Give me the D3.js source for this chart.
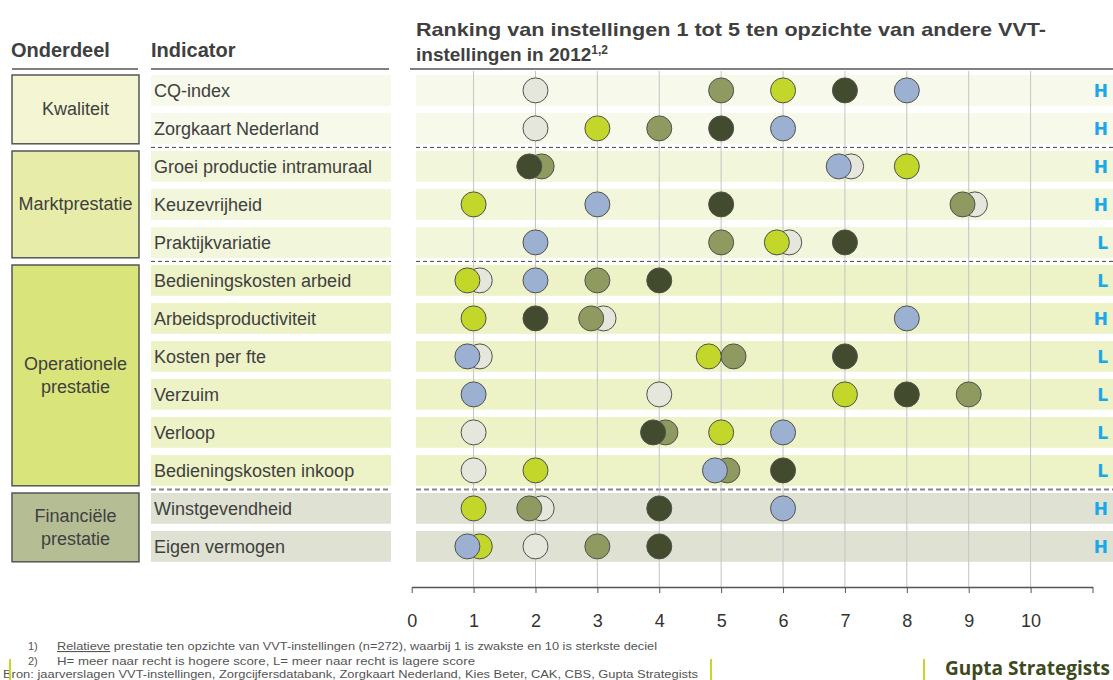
<!DOCTYPE html>
<html>
<head>
<meta charset="utf-8">
<script src="https://cdn.jsdelivr.net/npm/d3@7"></script>
<style>
  body { margin: 0; background: #fff; }
  text { font-family: "Liberation Sans", Arial, sans-serif; }
</style>
</head>
<body>
<script>
var outerWidth = 1113, outerHeight = 680;

// ---- data ----
var indicators = ["CQ-index", "Zorgkaart Nederland", "Groei productie intramuraal", "Keuzevrijheid",
  "Praktijkvariatie", "Bedieningskosten arbeid", "Arbeidsproductiviteit", "Kosten per fte",
  "Verzuim", "Verloop", "Bedieningskosten inkoop", "Winstgevendheid", "Eigen vermogen"];
var groupNames = [["Kwaliteit"], ["Marktprestatie"], ["Operationele", "prestatie"], ["Financiële", "prestatie"]];
var groupSizes = [2, 3, 6, 2];
var direction = ["H", "H", "H", "H", "L", "L", "H", "L", "L", "L", "L", "H", "H"];

// one array per institution, in indicator order (deciel 1-10)
var inst1 = [2, 2, 7.1, 9.1, 6.1, 1.1, 3.1, 1.1, 4, 1, 1, 2.1, 2];          // light grey
var inst2 = [6, 3, 8, 1, 5.9, 0.9, 1, 4.8, 7, 5, 2, 1, 1.1];                 // lime
var inst3 = [5, 4, 2.1, 8.9, 5, 3, 2.9, 5.2, 9, 4.1, 5.1, 1.9, 3];           // olive
var inst4 = [7, 5, 1.9, 5, 7, 4, 2, 7, 8, 3.9, 6, 4, 4];                     // dark olive
var inst5 = [8, 6, 6.9, 3, 2, 2, 8, 0.9, 1, 6, 4.9, 6, 0.9];                 // blue
var series = [inst1, inst2, inst3, inst4, inst5];
var seriesColors = ["#e5e7dc", "#c3d62a", "#8e9a60", "#434b2e", "#9cb1d1"];

var axisTicks = [0, 1, 2, 3, 4, 5, 6, 7, 8, 9, 10, 11];
var gridTicks = [1, 2, 3, 4, 5, 6, 7, 8, 9, 10];

var groupFill = ["#f4f6d3", "#e7eda9", "#d9e47b", "#b5bd95"];
var rowFill = ["#f7f9ea", "#f2f6da", "#edf3c7", "#dfe2d2"];

// ---- scales ----
var x = d3.scaleLinear()
  .domain([0, 11])
  .range([411.7, 1092.5]);

var y = d3.scaleBand()                  // row bands
  .domain(indicators)
  .range([75, 75 + 12 * 38 + 30.8])
  .paddingInner(0.19)
  .paddingOuter(0);

var rowGroup = [];
groupSizes.forEach(function (n, gi) { for (var k = 0; k < n; k++) rowGroup.push(gi); });

var svg = d3.select("body").append("svg")
  .attr("width", outerWidth)
  .attr("height", outerHeight);

// ---- headers ----
svg.append("text").attr("x", 11).attr("y", 57)
  .style("font-size", "20px").style("font-weight", "bold").style("fill", "#404040")
  .text("Onderdeel");
svg.append("text").attr("x", 151).attr("y", 57)
  .style("font-size", "20px").style("font-weight", "bold").style("fill", "#404040")
  .text("Indicator");
svg.append("text").attr("x", 416).attr("y", 36)
  .attr("textLength", 630).attr("lengthAdjust", "spacingAndGlyphs")
  .style("font-size", "19px").style("font-weight", "bold").style("fill", "#404040")
  .text("Ranking van instellingen 1 tot 5 ten opzichte van andere VVT-");
var t2 = svg.append("text").attr("x", 416).attr("y", 61)
  .style("font-size", "19px").style("font-weight", "bold").style("fill", "#404040");
t2.append("tspan").text("instellingen in 2012");
t2.append("tspan").attr("dy", -7).style("font-size", "12px").text("1,2");

[[12, 138], [151, 389], [410, 1113]].forEach(function (s) {
  svg.append("line").attr("x1", s[0]).attr("x2", s[1]).attr("y1", 69).attr("y2", 69)
    .style("stroke", "#808080").style("stroke-width", 2);
});

// ---- group boxes ----
var start = 0;
groupSizes.forEach(function (n, gi) {
  var top = y(indicators[start]), bottom = y(indicators[start + n - 1]) + y.bandwidth();
  svg.append("rect")
    .attr("x", 12).attr("y", top).attr("width", 127).attr("height", bottom - top)
    .style("fill", groupFill[gi]).style("stroke", "#555").style("stroke-width", 1.5);
  var lines = groupNames[gi], mid = (top + bottom) / 2;
  lines.forEach(function (l, li) {
    svg.append("text")
      .attr("x", 75.5)
      .attr("y", mid + 6 + (li - (lines.length - 1) / 2) * 23)
      .attr("text-anchor", "middle")
      .style("font-size", "18px").style("fill", "#404040")
      .text(l);
  });
  start += n;
});

// ---- row bands ----
svg.selectAll(".lband").data(indicators).enter().append("rect")
  .attr("x", 151).attr("width", 240)
  .attr("y", function (d) { return y(d); }).attr("height", y.bandwidth())
  .style("fill", function (d, i) { return rowFill[rowGroup[i]]; });

svg.selectAll(".pband").data(indicators).enter().append("rect")
  .attr("x", 416).attr("width", 697)
  .attr("y", function (d) { return y(d); }).attr("height", y.bandwidth())
  .style("fill", function (d, i) { return rowFill[rowGroup[i]]; });

svg.selectAll(".rlabel").data(indicators).enter().append("text")
  .attr("x", 154)
  .attr("y", function (d) { return y(d) + y.bandwidth() / 2 + 7; })
  .style("font-size", "18px").style("fill", "#404040")
  .text(function (d) { return d; });

// dashed separators between groups
var acc = 0;
groupSizes.slice(0, -1).forEach(function (n, gi) {
  acc += n;
  var yy = (y(indicators[acc - 1]) + y.bandwidth() + y(indicators[acc])) / 2;
  var last = gi === groupSizes.length - 2;
  [[151, 391], [416, 1113]].forEach(function (s) {
    svg.append("line").attr("x1", s[0]).attr("x2", s[1]).attr("y1", yy).attr("y2", yy)
      .style("stroke", last ? "#888" : "#444")
      .style("stroke-width", last ? 2 : 1)
      .style("stroke-dasharray", last ? "5,3" : "4,3");
  });
});

// ---- gridlines ----
svg.selectAll(".grid").data(gridTicks).enter().append("line")
  .attr("x1", function (d) { return x(d); }).attr("x2", function (d) { return x(d); })
  .attr("y1", 71).attr("y2", 587)
  .style("stroke", "#c4c4c4").style("stroke-width", 1);

// ---- axis ----
var xAxis = d3.axisBottom(x)
  .tickValues(axisTicks)
  .tickSize(6)
  .tickSizeOuter(0)
  .tickPadding(21)
  .tickFormat(function (d) { return d <= 10 ? d : ""; });

var ax = svg.append("g")
  .attr("transform", "translate(0,587)")
  .call(xAxis);
ax.select(".domain").style("stroke", "#555").style("stroke-width", 1.5);
ax.selectAll(".tick line").style("stroke", "#555");
ax.selectAll(".tick text")
  .style("font-size", "18px").style("fill", "#333")
  .style("font-family", "'Liberation Sans', Arial, sans-serif");

// ---- dots ----
var dots = [];
indicators.forEach(function (ind, i) {
  var row = series.map(function (s, si) { return { ind: ind, v: s[i], c: seriesColors[si] }; });
  row.sort(function (a, b) { return b.v - a.v; });   // leftmost dot on top
  dots = dots.concat(row);
});

svg.selectAll(".dot").data(dots).enter().append("circle")
  .attr("class", "dot")
  .attr("cx", function (d) { return x(d.v); })
  .attr("cy", function (d) { return y(d.ind) + y.bandwidth() / 2; })
  .attr("r", 12.5)
  .style("fill", function (d) { return d.c; })
  .style("stroke", "#505050").style("stroke-width", 1);

// H / L markers
svg.selectAll(".dir").data(indicators).enter().append("text")
  .attr("x", 1108)
  .attr("y", function (d) { return y(d) + y.bandwidth() / 2 + 7; })
  .attr("text-anchor", "end")
  .style("font-family", "'DejaVu Sans', Verdana, sans-serif")
  .style("font-size", "17px").style("font-weight", "bold").style("fill", "#1aa8e8")
  .text(function (d, i) { return direction[i]; });

// ---- footnotes ----
function note(xx, yy, txt, len) {
  var t = svg.append("text").attr("x", xx).attr("y", yy)
    .style("font-size", "11px").style("fill", "#555").text(txt);
  if (len) t.attr("textLength", len).attr("lengthAdjust", "spacingAndGlyphs");
  return t;
}
note(28, 650, "1)");
var n1 = svg.append("text").attr("x", 57).attr("y", 650)
  .attr("textLength", 600).attr("lengthAdjust", "spacingAndGlyphs")
  .style("font-size", "11px").style("fill", "#555");
n1.append("tspan").style("text-decoration", "underline").text("Relatieve");
n1.append("tspan").text(" prestatie ten opzichte van VVT-instellingen (n=272), waarbij 1 is zwakste en 10 is sterkste deciel");
note(28, 665, "2)");
note(57, 665, "H= meer naar recht is hogere score, L= meer naar recht is lagere score", 418);
note(3, 678, "Bron: jaarverslagen VVT-instellingen, Zorgcijfersdatabank, Zorgkaart Nederland, Kies Beter, CAK, CBS, Gupta Strategists", 695);

[10, 711, 924].forEach(function (xx) {
  svg.append("line").attr("x1", xx).attr("x2", xx).attr("y1", 659).attr("y2", 680)
    .style("stroke", "#c8d62a").style("stroke-width", 2);
});

svg.append("text").attr("x", 945).attr("y", 675)
  .attr("textLength", 165).attr("lengthAdjust", "spacingAndGlyphs")
  .style("font-family", "'Open Sans', sans-serif")
  .style("font-size", "19px").style("font-weight", "bold").style("fill", "#3d4a1e")
  .text("Gupta Strategists");
</script>
</body>
</html>
